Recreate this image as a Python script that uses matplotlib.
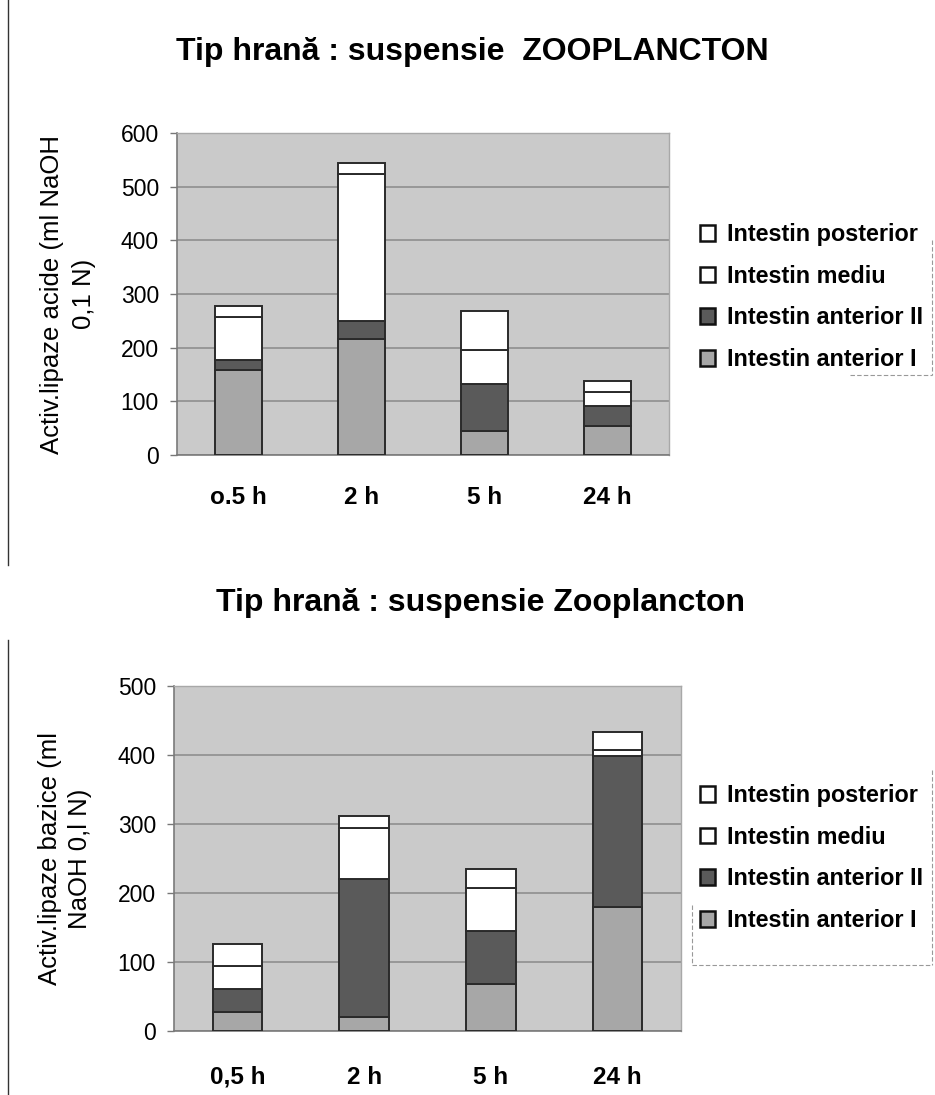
import matplotlib
matplotlib.use('Agg')
import matplotlib.pyplot as plt
from matplotlib.lines import Line2D
import numpy as np

plt.rcParams['font.family'] = ['Liberation Sans', 'DejaVu Sans']

# Series names (legend order, top to bottom)
series_names = ['Intestin posterior', 'Intestin mediu',
                'Intestin anterior II', 'Intestin anterior I']

# Top chart: acid lipase activity
top_title = 'Tip hrană : suspensie  ZOOPLANCTON'
top_ylabel = 'Activ.lipaze acide (ml NaOH\n0,1 N)'
top_cats = ['o.5 h', '2 h', '5 h', '24 h']
top_ant1 = [159, 216, 45, 54]
top_ant2 = [18, 34, 88, 37]
top_mediu = [80, 273, 63, 27]
top_post = [20, 22, 73, 19]
top_ticks = [0, 100, 200, 300, 400, 500, 600]

# Bottom chart: basic lipase activity
bot_title = 'Tip hrană : suspensie Zooplancton'
bot_ylabel = 'Activ.lipaze bazice (ml\nNaOH 0,l N)'
bot_cats = ['0,5 h', '2 h', '5 h', '24 h']
bot_ant1 = [28, 20, 68, 179]
bot_ant2 = [33, 200, 77, 219]
bot_mediu = [33, 74, 62, 9]
bot_post = [32, 18, 28, 27]
bot_ticks = [0, 100, 200, 300, 400, 500]

W, H = 935, 1095
fig = plt.figure(figsize=(W / 100, H / 100), dpi=100)

colors = {'ant1': '#a7a7a7', 'ant2': '#5a5a5a', 'mediu': '#ffffff', 'post': '#ffffff'}
edge = '#2a2a2a'


def draw(rect, cats, ant1, ant2, mediu, post, ticks, title, ylabel,
         title_xy, ylab_x, ylab_ls, leg_top, xpad):
    ax = fig.add_axes(rect)
    ax.set_facecolor('#cacaca')
    x = np.arange(len(cats))
    w = 0.39
    b = np.zeros(len(cats))
    handles = {}
    for key, vals in [('ant1', ant1), ('ant2', ant2), ('mediu', mediu), ('post', post)]:
        handles[key] = ax.bar(x, vals, w, bottom=b, color=colors[key],
                              edgecolor=edge, linewidth=1.4, zorder=3)
        b = b + np.array(vals)
    ax.set_xlim(-0.5, len(cats) - 0.5)
    ax.set_ylim(ticks[0], ticks[-1])
    ax.set_yticks(ticks)
    ax.set_xticks(x)
    ax.set_xticklabels(cats, fontsize=17.5, fontweight='bold')
    ax.tick_params(axis='x', length=0, pad=xpad)
    ax.tick_params(axis='y', length=5, width=1, color='#777777',
                   labelsize=16.5, pad=8)
    ax.grid(axis='y', color='#8a8a8a', linewidth=1.1, zorder=1)
    for s in ['top', 'right']:
        ax.spines[s].set_color('#a8a8a8')
        ax.spines[s].set_linewidth(1)
    for s in ['left', 'bottom']:
        ax.spines[s].set_color('#7a7a7a')
        ax.spines[s].set_linewidth(1.2)

    fig.text(title_xy[0] / W, 1 - title_xy[1] / H, title, ha='center',
             va='center', fontsize=23, fontweight='bold')
    yc = rect[1] + rect[3] / 2
    fig.text(ylab_x / W, yc, ylabel, rotation=90, ha='center', va='center',
             multialignment='center', fontsize=18.5, linespacing=ylab_ls)

    order = [handles['post'], handles['mediu'], handles['ant2'], handles['ant1']]
    leg = fig.legend(order, series_names, loc='upper left',
                     bbox_to_anchor=(700 / W, 1 - leg_top / H),
                     frameon=False, prop={'weight': 'bold', 'size': 16.8},
                     handlelength=0.65, handleheight=0.65, handletextpad=0.5,
                     labelspacing=0.8, borderpad=0, borderaxespad=0)
    for p in leg.get_patches():
        p.set_linewidth(1.8)
        p.set_edgecolor('#111111')
    return ax


draw([177 / W, 1 - 455 / H, 492 / W, 322 / H], top_cats, top_ant1, top_ant2,
     top_mediu, top_post, top_ticks, top_title, top_ylabel,
     (472, 52), 68, 1.4, 223, 22)

draw([174 / W, 1 - 1031 / H, 507 / W, 345 / H], bot_cats, bot_ant1, bot_ant2,
     bot_mediu, bot_post, bot_ticks, bot_title, bot_ylabel,
     (480, 603), 65, 1.3, 784, 25)

# scanned page frame lines on the left
fig.add_artist(Line2D([8 / W, 8 / W], [1 - 0 / H, 1 - 565 / H],
                      color='#333333', linewidth=1))
fig.add_artist(Line2D([8 / W, 8 / W], [1 - 640 / H, 0],
                      color='#333333', linewidth=1))

# faint legend frame fragments from the scan
frag = dict(color='#999999', linewidth=0.8, linestyle=(0, (4, 2)))
fig.add_artist(Line2D([932 / W, 932 / W], [1 - 240 / H, 1 - 375 / H], **frag))
fig.add_artist(Line2D([850 / W, 932 / W], [1 - 375 / H, 1 - 375 / H], **frag))
fig.add_artist(Line2D([932 / W, 932 / W], [1 - 770 / H, 1 - 965 / H], **frag))
fig.add_artist(Line2D([692 / W, 932 / W], [1 - 965 / H, 1 - 965 / H], **frag))
fig.add_artist(Line2D([692 / W, 692 / W], [1 - 905 / H, 1 - 965 / H], **frag))

fig.savefig('out.png', dpi=100, facecolor='white')
